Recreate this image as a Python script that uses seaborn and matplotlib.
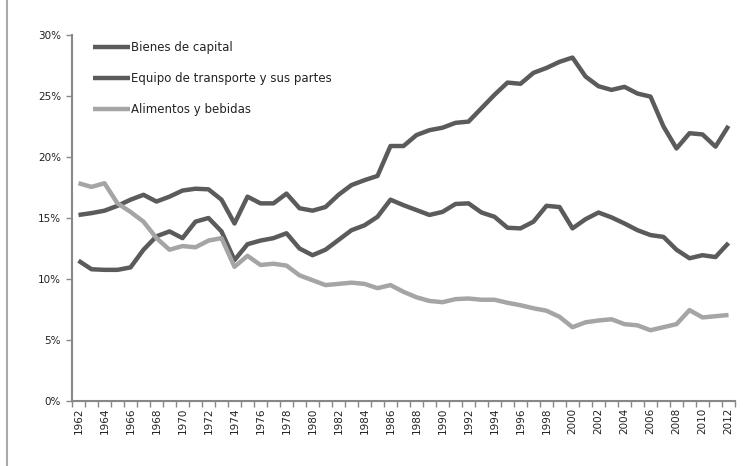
import numpy as np
import pandas as pd
import matplotlib.pyplot as plt
import seaborn as sns
from matplotlib.ticker import PercentFormatter

sns.set_style("white")
plt.rcParams['font.family'] = ['DejaVu Sans']

years = list(range(1962, 2013))

bienes_capital = [15.25, 15.4, 15.6, 16.0, 16.5, 16.9, 16.35, 16.75, 17.25, 17.4,
                  17.35, 16.5, 14.55, 16.75, 16.2, 16.2, 17.0, 15.8, 15.6, 15.9,
                  16.9, 17.7, 18.1, 18.45, 20.9, 20.9, 21.8, 22.2, 22.4, 22.8,
                  22.9, 24.0, 25.1, 26.1, 26.0, 26.9, 27.3, 27.8, 28.15, 26.6,
                  25.8, 25.5, 25.75, 25.2, 24.95, 22.5, 20.7, 21.95, 21.85, 20.85,
                  22.55]

equipo_transporte = [11.5, 10.8, 10.75, 10.75, 10.95, 12.4, 13.5, 13.9, 13.35, 14.7,
                     15.0, 13.9, 11.55, 12.85, 13.15, 13.35, 13.75, 12.5, 11.95, 12.4,
                     13.2, 14.0, 14.4, 15.1, 16.5, 16.05, 15.65, 15.25, 15.5, 16.15,
                     16.2, 15.45, 15.1, 14.2, 14.15, 14.7, 16.0, 15.9, 14.15, 14.9,
                     15.45, 15.05, 14.55, 14.0, 13.6, 13.45, 12.4, 11.7, 11.95, 11.8,
                     12.95]

alimentos_bebidas = [17.85, 17.55, 17.85, 16.2, 15.5, 14.7, 13.35, 12.4, 12.7, 12.6,
                     13.15, 13.35, 11.0, 11.9, 11.15, 11.25, 11.1, 10.3, 9.9, 9.5,
                     9.6, 9.7, 9.6, 9.25, 9.5, 8.95, 8.5, 8.2, 8.1, 8.35,
                     8.4, 8.3, 8.3, 8.05, 7.85, 7.6, 7.4, 6.9, 6.05, 6.45,
                     6.6, 6.7, 6.3, 6.2, 5.8, 6.05, 6.3, 7.45, 6.85, 6.95,
                     7.05]

series_names = ["Bienes de capital", "Equipo de transporte y sus partes", "Alimentos y bebidas"]
series_colors = ["#5b5b5b", "#5b5b5b", "#a5a5a5"]

df = pd.DataFrame({"Año": years,
                   series_names[0]: bienes_capital,
                   series_names[1]: equipo_transporte,
                   series_names[2]: alimentos_bebidas})
df_long = df.melt(id_vars="Año", var_name="Serie", value_name="Valor")

fig = plt.figure(figsize=(7.51, 4.66), dpi=100)
ax = fig.add_axes([72/751, 1 - 401/466, 663/751, 366/466])

sns.lineplot(data=df_long, x="Año", y="Valor", hue="Serie", hue_order=series_names,
             palette=dict(zip(series_names, series_colors)), linewidth=3.2,
             solid_capstyle="butt", ax=ax)

ax.set_xlim(1961.5, 2012.5)
ax.set_ylim(0, 30)
ax.set_yticks(range(0, 31, 5))
ax.yaxis.set_major_formatter(PercentFormatter(xmax=100, decimals=0))
ax.tick_params(axis="y", length=4, width=1, color="#888888", labelsize=7.5, pad=4,
               direction="out", left=True, labelcolor="#222222")

# tick marks between categories, labels every second year
ax.set_xticks(np.arange(1961.5, 2013.0, 1.0))
ax.set_xticklabels([])
ax.set_xticks(years[::2], minor=True)
ax.set_xticklabels([str(y) for y in years[::2]], minor=True, rotation=90)
ax.tick_params(axis="x", which="major", length=4, width=1, color="#888888", direction="out", bottom=True)
ax.tick_params(axis="x", which="minor", length=0, labelsize=7.5, pad=5, labelcolor="#222222")

ax.set_xlabel("")
ax.set_ylabel("")
for s in ["top", "right"]:
    ax.spines[s].set_visible(False)
for s in ["left", "bottom"]:
    ax.spines[s].set_color("#888888")
    ax.spines[s].set_linewidth(1.5)

leg = ax.legend(loc="upper left", bbox_to_anchor=(0.022, 1.0), frameon=False, fontsize=8.5,
                handlelength=3.1, handletextpad=0.1, labelspacing=1.5, borderaxespad=0.15)
for t in leg.get_texts():
    t.set_color("#222222")

# chart border on the left
fig.add_artist(plt.Line2D([7/751, 7/751], [0, 1], color="#aaaaaa", linewidth=1.5))

fig.savefig("out.png", dpi=100)
